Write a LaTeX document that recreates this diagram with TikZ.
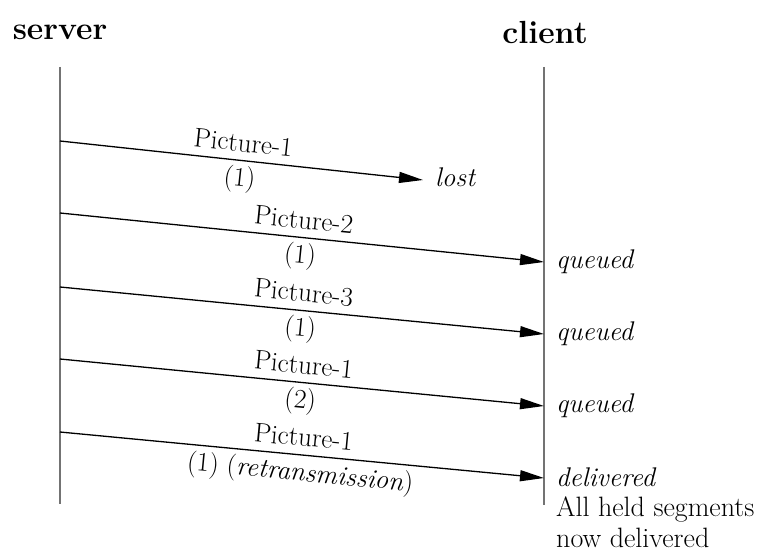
\documentclass[tikz,border=0pt]{standalone}
\usetikzlibrary{arrows.meta}
\begin{document}
\begin{tikzpicture}[x=1pt,y=-1pt,
  lifeline/.style={draw=black!55,line width=1.8pt},
  msg/.style={draw=black,line width=1.3pt,-{Triangle[length=24pt,width=11pt]}},
  toplbl/.style={midway,sloped,above=8pt,inner sep=0pt,font=\fontsize{27}{30}\selectfont},
  botlbl/.style={midway,sloped,below=5pt,inner sep=0pt,font=\fontsize{27}{30}\selectfont},
  state/.style={anchor=west,inner sep=0pt,font=\fontsize{27}{30}\selectfont\itshape},
  note/.style={anchor=north west,inner sep=0pt,align=left,font=\fontsize{28}{31}\selectfont},
  title/.style={inner sep=0pt,font=\fontsize{32}{36}\selectfont\bfseries}]
\useasboundingbox (0,0) rectangle (775,556);
\node[title] (server) at (60,32) {server};
\node[title] (client) at (545,32) {client};
\coordinate (stop) at (60,67);
\coordinate (sbot) at (60,504);
\coordinate (ctop) at (544,67);
\coordinate (cbot) at (544,505);
\draw[lifeline] (stop) -- (sbot);
\draw[lifeline] (ctop) -- (cbot);
\coordinate (s1) at (60,141);
\coordinate (s2) at (60,213);
\coordinate (s3) at (60,287);
\coordinate (s4) at (60,359);
\coordinate (s5) at (60,432);
\coordinate (c2) at (544,262);
\coordinate (c3) at (544,334);
\coordinate (c4) at (544,406);
\coordinate (c5) at (544,478);
\node[state] (lost) at (435,177) {lost};
\node[state] (q2) at (556,262) {queued};
\node[state] (q3) at (556,334) {queued};
\node[state] (q4) at (556,406) {queued};
\node[state] (d5) at (556,477) {delivered};
\node[note] (all) at (556,496) {All held segments\\now delivered};
\draw[msg] (s1) -- (423,180) node[toplbl] {Picture-1} node[botlbl] {(1)};
\draw[msg] (s2) -- (c2) node[toplbl] {Picture-2} node[botlbl] {(1)};
\draw[msg] (s3) -- (c3) node[toplbl] {Picture-3} node[botlbl] {(1)};
\draw[msg] (s4) -- (c4) node[toplbl] {Picture-1} node[botlbl] {(2)};
\draw[msg] (s5) -- (c5) node[toplbl] {Picture-1} node[botlbl] {(1) (\textit{retransmission})};
\end{tikzpicture}
\end{document}
